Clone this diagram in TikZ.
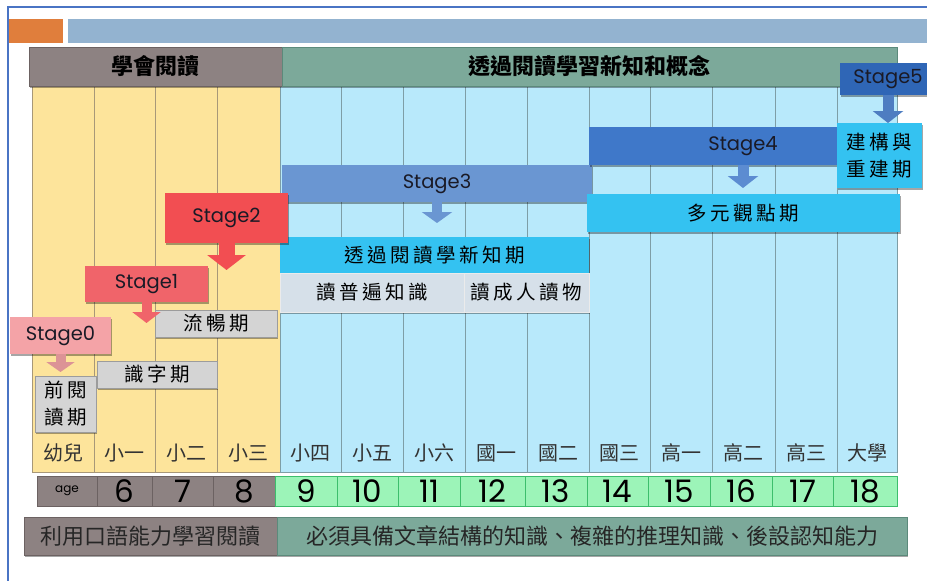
\documentclass[tikz,border=0pt]{standalone}
\usepackage{fontspec}
\setmainfont{Poppins}
\newfontfamily\cjk{Noto Sans CJK TC}
\newfontfamily\kai[LetterSpace=18]{Noto Sans CJK TC}
\newfontfamily\geo{Poppins}
\usetikzlibrary{shadows,arrows.meta}
\definecolor{frameblue}{HTML}{4A74C4}
\definecolor{orangebar}{HTML}{E07E3C}
\definecolor{greybar}{HTML}{93B3D0}
\definecolor{hdbrown}{HTML}{8D8282}
\definecolor{hdbrownd}{HTML}{6C6262}
\definecolor{hdgreen}{HTML}{7CA99A}
\definecolor{hdgreend}{HTML}{5C8A7B}
\definecolor{colyellow}{HTML}{FDE49B}
\definecolor{colblue}{HTML}{B8E9FB}
\definecolor{lineyellow}{HTML}{A89878}
\definecolor{lineblue}{HTML}{7E9EA6}
\definecolor{agegreen}{HTML}{9CF4B8}
\definecolor{agegreend}{HTML}{3DBE6C}
\definecolor{pgrey}{HTML}{D4D4D4}
\definecolor{pgreyd}{HTML}{9C9C9C}
\definecolor{pgblue}{HTML}{D6E0E9}
\definecolor{pcyan}{HTML}{34C2F1}
\definecolor{stzero}{HTML}{F4A3A7}
\definecolor{stone}{HTML}{F0646A}
\definecolor{sttwo}{HTML}{F24E52}
\definecolor{stthree}{HTML}{6A96D2}
\definecolor{stfour}{HTML}{3F78C9}
\definecolor{stfive}{HTML}{2F66B6}
\definecolor{txtdark}{HTML}{1A1A26}
\newcommand\bx[7]{%
 \pgfmathsetmacro\bxw{(#5)-(#3)}%
 \pgfmathsetmacro\bxh{(#6)-(#4)}%
 \pgfmathsetmacro\bxcx{((#3)+(#5))/2}%
 \pgfmathsetmacro\bxcy{((#4)+(#6))/2}%
 \node[inner sep=0pt, outer sep=0pt, minimum width=\bxw pt, minimum height=\bxh pt, #2] (#1) at (\bxcx,\bxcy) {#7};}
\tikzset{
 shad/.style={drop shadow={shadow xshift=1pt, shadow yshift=-2pt, opacity=0.35, fill=black}},
 header/.style={shad, draw=#1, line width=0.8pt, font=\cjk\bfseries\fontsize{22}{26}\selectfont, text=black},
 ycol/.style={fill=colyellow, draw=lineyellow, line width=0.8pt},
 bcol/.style={fill=colblue, draw=lineblue, line width=0.8pt},
 grade/.style={font=\cjk\fontsize{20}{24}\selectfont, text=black!80, inner sep=0pt},
 agecell/.style={draw=#1, line width=0.8pt, font=\geo\fontsize{31}{31}\selectfont, text=black},
 period/.style={shad, fill=#1, draw=pgreyd, line width=0.6pt, font=\kai\fontsize{19.5}{27}\selectfont, text=black, align=center},
 stagebox/.style={shad, fill=#1, font=\geo\fontsize{19.5}{22}\selectfont, text=txtdark},
 bottombox/.style={shad, draw=#1, line width=0.8pt, font=\cjk\fontsize{22}{26}\selectfont, text=black!85},
 sarr/.style n args={3}{line width=#1, -{Triangle[width=#2,length=#3]}},
}
\begin{document}
\begin{tikzpicture}[x=1pt,y=-1pt]
\useasboundingbox[fill=white] (0,0) rectangle (927,581);
\clip (0,0) rectangle (927,581);
% slide frame and title bars
\draw[frameblue, line width=1.5pt] (8,581) -- (8,7) -- (927,7);
\fill[orangebar] (9,19) rectangle (63,43);
\fill[greybar] (68,19) rectangle (927,43);
% columns
\foreach \a/\b/\t [count=\i] in {32/94/幼兒, 94/155/小一, 155/217/小二, 217/280/小三}{
  \bx{c\i}{ycol}{\a}{86}{\b}{472}{}
  \pgfmathsetmacro\gx{(\a+\b)/2}
  \node[grade] (g\i) at (\gx,453) {\t};
}
\foreach \a/\b/\t [count=\i from 5] in {280/341/小四, 341/403/小五, 403/465/小六, 465/527/國一, 527/589/國二, 589/650/國三, 650/712/高一, 712/775/高二, 775/837/高三, 837/897/大學}{
  \bx{c\i}{bcol}{\a}{86}{\b}{472}{}
  \pgfmathsetmacro\gx{(\a+\b)/2}
  \node[grade] (g\i) at (\gx,453) {\t};
}
% headers
\bx{hd1}{header=hdbrownd, fill=hdbrown}{29}{47}{282}{86}{學會閱讀}
\bx{hd2}{header=hdgreend, fill=hdgreen}{282}{47}{897}{86}{透過閱讀學習新知和概念}
% age row
\bx{a0}{agecell=hdbrownd, fill=hdbrown, font=\geo\fontsize{12}{12}\selectfont}{37}{476}{97}{506}{age}
\foreach \a/\b/\t [count=\i] in {97/152/6, 152/213/7, 213/275/8}{
  \bx{a\i}{agecell=hdbrownd, fill=hdbrown}{\a}{476}{\b}{506}{\t}
}
\foreach \a/\b/\t [count=\i from 4] in {275/337/9, 337/398/10, 398/460/11, 460/525/12, 525/587/13, 587/648/14, 648/710/15, 710/772/16, 772/833/17, 833/897/18}{
  \bx{a\i}{agecell=agegreend, fill=agegreen}{\a}{476}{\b}{506}{\t}
}
% bottom row
\bx{b1}{bottombox=hdbrownd, fill=hdbrown}{24}{517}{277}{555}{利用口語能力學習閱讀}
\bx{b2}{bottombox=hdgreend, fill=hdgreen}{277}{517}{907}{555}{必須具備文章結構的知識、複雜的推理知識、後設認知能力}
% period boxes
\bx{p0}{period=pgrey}{35}{376}{96}{432}{前閱\\讀期}
\bx{p1}{period=pgrey}{97}{361}{217}{388}{識字期}
\bx{p2}{period=pgrey}{155}{310}{277}{337}{流暢期}
\bx{p3}{period=pcyan, draw=none}{280}{237}{589}{273}{透過閱讀學新知期}
\bx{p3a}{period=pgblue, draw=white!80!pgreyd}{280}{273}{464}{312}{讀普遍知識}
\bx{p3b}{period=pgblue, draw=white!80!pgreyd}{464}{273}{589}{312}{讀成人讀物}
% stage boxes
\bx{s3}{stagebox=stthree}{282}{165}{592}{202}{Stage3}
\bx{s2}{stagebox=sttwo}{165}{193}{288}{243}{Stage2}
\bx{s1}{stagebox=stone}{85}{266}{208}{302}{Stage1}
\bx{s0}{stagebox=stzero}{10}{317}{111}{354}{Stage0}
\bx{s4}{stagebox=stfour}{589}{127}{897}{165}{Stage4}
\bx{p4}{period=pcyan, draw=none}{587}{194}{900}{232}{多元觀點期}
\bx{p5}{period=pcyan, draw=none}{837}{123}{922}{188}{建構與\\重建期}
\bx{s5}{stagebox=stfive}{840}{63}{936}{95}{Stage5}
% arrows
\draw[sarr={10pt}{28pt}{10pt}, stzero!90!black] (s0.south) -- ++(0,18);
\draw[sarr={10pt}{28pt}{11pt}, stone] (s1.south) -- ++(0,21);
\draw[sarr={16pt}{38pt}{15pt}, sttwo] (s2.south) -- ++(0,27);
\draw[sarr={10pt}{30pt}{11pt}, stthree] (s3.south) -- ++(0,21);
\draw[sarr={11pt}{30pt}{12pt}, stfour!85!white] (s4.south) -- ++(0,23);
\draw[sarr={11pt}{30pt}{12pt}, stfive!85!white] (s5.south) -- (s5.south |- p5.north);
\end{tikzpicture}
\end{document}
